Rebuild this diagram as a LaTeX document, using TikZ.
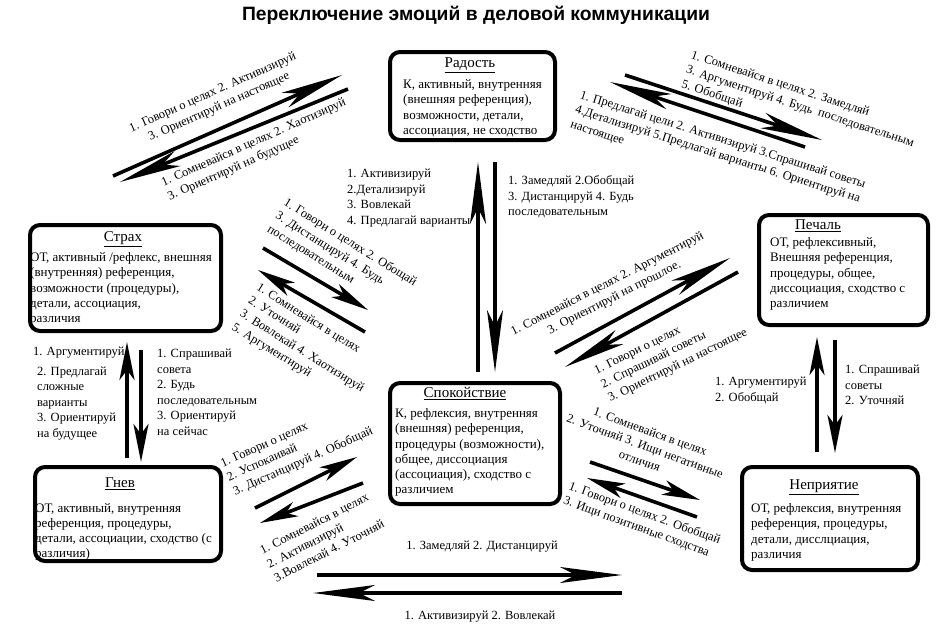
\documentclass[tikz,border=0pt]{standalone}
\usepackage{fontspec}
\setmainfont{Liberation Serif}
\newfontfamily\headfont{Liberation Sans}
\usetikzlibrary{arrows.meta,positioning,calc}

\begin{document}
\begin{tikzpicture}[
    x=1pt, y=1pt,
    emobox/.style={rectangle, draw, line width=4pt, rounded corners=10pt},
    emotitle/.style={font=\fontsize{15}{17}\selectfont, inner sep=0pt},
    emotext/.style={font=\fontsize{13}{15.2}\selectfont, align=left, inner sep=0pt},
    lbl/.style={font=\fontsize{12.5}{15.5}\selectfont, inner sep=0pt},
    bigarrow/.style={-{Stealth[length=62pt,width=16pt,inset=16pt]}, line width=3.6pt},
    smallarrow/.style={-{Stealth[length=38pt,width=15pt,inset=10pt]}, line width=3.6pt},
]
\useasboundingbox (0,0) rectangle (952,-638);

% Heading
\node[font=\headfont\bfseries\fontsize{19.3}{22}\selectfont] (heading) at (476,-15) {Переключение эмоций в деловой коммуникации};

% Emotion boxes
\node[emobox, minimum width=165pt, minimum height=88pt] (joy) at (472.5,-96) {};
\node[emotitle, below=7.5pt of joy.north, xshift=-2.5pt] (joyt) {\underline{Радость}};
\node[emotext, below right=29.5pt and 15pt of joy.north west] (joyx) {К, активный, внутренняя\\(внешняя референция),\\возможности, детали,\\ассоциация, не сходство};

\node[emobox, minimum width=191pt, minimum height=106pt] (fear) at (125.5,-278) {};
\node[emotitle, below=8.5pt of fear.north, xshift=-2.5pt] (feart) {\underline{Страх}};
\node[emotext, below right=29.5pt and 2pt of fear.north west] (fearx) {ОТ, активный /рефлекс, внешняя\\(внутренняя) референция,\\возможности (процедуры),\\детали, ассоциация,\\различия};

\node[emobox, minimum width=169pt, minimum height=110pt] (sad) at (843.5,-270) {};
\node[emotitle, below=6.5pt of sad.north, xshift=-25.5pt] (sadt) {\underline{Печаль}};
\node[emotext, below right=24.5pt and 13pt of sad.north west] (sadx) {ОТ, рефлексивный,\\Внешняя референция,\\процедуры, общее,\\диссоциация, сходство с\\различием};

\node[emobox, minimum width=170pt, minimum height=121pt] (calm) at (475,-443.5) {};
\node[emotitle, below=6.5pt of calm.north, xshift=-10pt] (calmt) {\underline{Спокойствие}};
\node[emotext, below right=27.5pt and 7pt of calm.north west] (calmx) {К, рефлексия, внутренняя\\(внешняя) референция,\\процедуры (возможности),\\общее, диссоциация\\(ассоциация), сходство с\\различием};

\node[emobox, minimum width=186pt, minimum height=94pt] (anger) at (128,-514) {};
\node[emotitle, below=12.5pt of anger.north, xshift=-8pt] (angert) {\underline{Гнев}};
\node[emotext, below right=38pt and 2pt of anger.north west] (angerx) {ОТ, активный, внутренняя\\референция, процедуры,\\детали, ассоциации, сходство (с\\различия)};

\node[emobox, minimum width=176pt, minimum height=103pt] (dislike) at (830,-518.5) {};
\node[emotitle, below=14.5pt of dislike.north, xshift=-6pt] (dislt) {\underline{Неприятие}};
\node[emotext, below right=38.5pt and 11pt of dislike.north west] (dislx) {ОТ, рефлексия, внутренняя\\референция, процедуры,\\детали, дисслциация,\\различия};

% Arrow ends
\coordinate (tl1a) at (113,-176);  \coordinate (tl1b) at (342,-75);
\coordinate (tl2a) at (348,-89);   \coordinate (tl2b) at (120,-182);
\coordinate (tr1a) at (625,-75);   \coordinate (tr1b) at (822,-140);
\coordinate (tr2a) at (805,-147);  \coordinate (tr2b) at (610,-82);
\coordinate (jc1a) at (478,-372);  \coordinate (jc1b) at (478,-162);
\coordinate (jc2a) at (495,-162);  \coordinate (jc2b) at (495,-372);
\coordinate (fc1a) at (263,-248);  \coordinate (fc1b) at (368,-310);
\coordinate (fc2a) at (365,-332);  \coordinate (fc2b) at (258,-270);
\coordinate (fa1a) at (127,-458);  \coordinate (fa1b) at (127,-342);
\coordinate (fa2a) at (141,-350);  \coordinate (fa2b) at (141,-462);
\coordinate (ac1a) at (255,-508);  \coordinate (ac1b) at (357,-457);
\coordinate (ac2a) at (363,-483);  \coordinate (ac2b) at (260,-523);
\coordinate (cs1a) at (555,-353);  \coordinate (cs1b) at (730,-258);
\coordinate (cs2a) at (738,-272);  \coordinate (cs2b) at (565,-367);
\coordinate (cd1a) at (590,-462);  \coordinate (cd1b) at (700,-500);
\coordinate (cd2a) at (697,-517);  \coordinate (cd2b) at (587,-478);
\coordinate (sd1a) at (817,-452);  \coordinate (sd1b) at (817,-337);
\coordinate (sd2a) at (835,-340);  \coordinate (sd2b) at (835,-453);
\coordinate (bt1a) at (317,-575);  \coordinate (bt1b) at (622,-575);
\coordinate (bt2a) at (622,-593);  \coordinate (bt2b) at (313,-593);

% Arrows
\draw[bigarrow] (tl1a) -- (tl1b);
\draw[bigarrow] (tl2a) -- (tl2b);
\draw[bigarrow] (tr1a) -- (tr1b);
\draw[bigarrow] (tr2a) -- (tr2b);
\draw[bigarrow] (jc1a) -- (jc1b);
\draw[bigarrow] (jc2a) -- (jc2b);
\draw[smallarrow] (fc1a) -- (fc1b);
\draw[smallarrow] (fc2a) -- (fc2b);
\draw[smallarrow] (fa1a) -- (fa1b);
\draw[smallarrow] (fa2a) -- (fa2b);
\draw[smallarrow] (ac1a) -- (ac1b);
\draw[smallarrow] (ac2a) -- (ac2b);
\draw[bigarrow] (cs1a) -- (cs1b);
\draw[bigarrow] (cs2a) -- (cs2b);
\draw[smallarrow] (cd1a) -- (cd1b);
\draw[smallarrow] (cd2a) -- (cd2b);
\draw[smallarrow] (sd1a) -- (sd1b);
\draw[smallarrow] (sd2a) -- (sd2b);
\draw[bigarrow] (bt1a) -- (bt1b);
\draw[bigarrow] (bt2a) -- (bt2b);

% Labels
\node[lbl, rotate=24, align=center] (tl1l) at (216,-100) {1. Говори о целях 2. Активизируй\\3. Ориентируй на настоящее};
\node[lbl, rotate=24, align=left] (tl2l) at (257,-150) {1. Сомневайся в целях 2. Хаотизируй\\3. Ориентируй на будущее};
\node[lbl, rotate=-18, align=left] (tr1l) at (800,-107) {1. Сомневайся в целях 2. Замедляй\\3. Аргументируй 4. Будь\ \ последовательным\\5. Обобщай};
\node[lbl, rotate=-17.5, align=left] (tr2l) at (718,-155) {1. Предлагай цели 2. Активизируй 3.Спрашивай советы\\4.Детализируй 5.Предлагай варианты 6. Ориентируй на\\настоящее};
\node[lbl, align=left, anchor=west] (jc1l) at (347,-198) {1. Активизируй\\2.Детализируй\\3. Вовлекай\\4. Предлагай варианты};
\node[lbl, align=left, anchor=west] (jc2l) at (508,-197) {1. Замедляй 2.Обобщай\\3. Дистанцируй 4. Будь\\последовательным};
\node[lbl, rotate=-32, align=left] (fc1l) at (342,-256) {1. Говори о целях 2. Обощай\\3. Дистанцируй 4. Будь\\последовательным};
\node[lbl, rotate=-32, align=left] (fc2l) at (306,-345) {1. Сомневайся в целях\\2. Уточняй\\3. Вовлекай 4. Хаотизируй\\5. Аргументируй};
\node[lbl, anchor=west] (fa1l) at (33,-353) {1. Аргументируй};
\node[lbl, align=left, anchor=west] (fa2l) at (37,-403.5) {2. Предлагай\\сложные\\варианты\\3. Ориентируй\\на будущее};
\node[lbl, align=left, anchor=west] (fa3l) at (157,-392.5) {1. Спрашивай\\совета\\2. Будь\\последовательным\\3. Ориентируй\\на сейчас};
\node[lbl, rotate=24, align=left] (ac1l) at (297,-448) {1. Говори о целях\\2. Успокаивай\\3. Дистанцируй 4. Обобщай};
\node[lbl, rotate=27, align=left] (ac2l) at (322,-537) {1. Сомневайся в целях\\2. Активизируй\\3.Вовлекай 4. Уточняй};
\node[lbl, rotate=27, align=center] (cs1l) at (611,-291) {1. Сомневайся в целях 2. Аргументируй\\3. Ориентируй на прошлое.};
\node[lbl, rotate=26, align=left] (cs2l) at (671,-352) {1. Говори о целях\\2. Спрашивай советы\\3. Ориентируй на настоящее};
\node[lbl, rotate=-20, align=center] (cd1l) at (645,-446) {1. Сомневайся в целях\\2. Уточняй 3. Ищи негативные\\отличия};
\node[lbl, rotate=-20, align=left] (cd2l) at (642,-521) {1. Говори о целях 2. Обобщай\\3. Ищи позитивные сходства};
\node[lbl, align=left, anchor=west] (sd1l) at (715,-390.5) {1. Аргументируй\\2. Обобщай};
\node[lbl, align=left, anchor=west] (sd2l) at (845,-385) {1. Спрашивай\\советы\\2. Уточняй};
\node[lbl] (bt1l) at (482,-547) {1. Замедляй 2. Дистанцируй};
\node[lbl] (bt2l) at (480,-617) {1. Активизируй 2. Вовлекай};

\end{tikzpicture}
\end{document}
